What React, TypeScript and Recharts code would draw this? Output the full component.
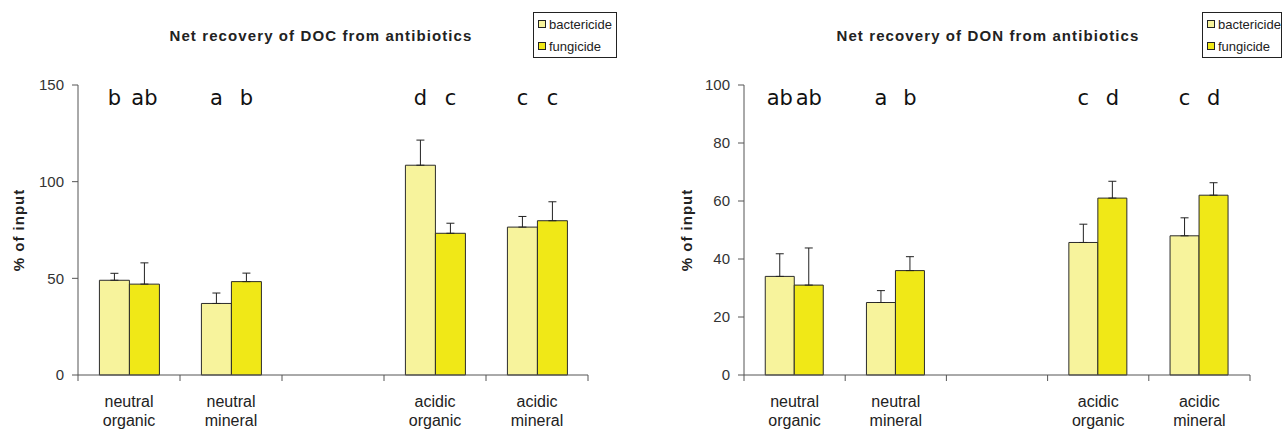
import { BarChart, Bar, XAxis, YAxis, ErrorBar, LabelList, Legend } from 'recharts';

const categories = ['neutral organic', 'neutral mineral', '', 'acidic organic', 'acidic mineral'];

// DOC panel
const docBactericide = [49, 37, null, 108.5, 76.5];
const docFungicide = [47, 48.3, null, 73.3, 79.8];
const docBactericideErr = [3.6, 5.4, null, 13, 5.5];
const docFungicideErr = [11, 4.4, null, 5.2, 9.8];
const docBactericideLetters = ['b', 'a', '', 'd', 'c'];
const docFungicideLetters = ['ab', 'b', '', 'c', 'c'];
const docTicks = [0, 50, 100, 150];

// DON panel
const donBactericide = [34, 25, null, 45.7, 48];
const donFungicide = [31, 36, null, 61, 62];
const donBactericideErr = [7.8, 4.1, null, 6.3, 6.2];
const donFungicideErr = [12.8, 4.8, null, 5.8, 4.3];
const donBactericideLetters = ['ab', 'a', '', 'c', 'c'];
const donFungicideLetters = ['ab', 'b', '', 'd', 'd'];
const donTicks = [0, 20, 40, 60, 80, 100];

const BACT = '#F7F39C';
const FUNG = '#F0E817';
const EDGE = '#2b2b2b';
const AXIS = '#555';
const SANS = '"Liberation Sans", Arial, sans-serif';

const PLOT_TOP = 85;
const HEIGHT = 429;

type Num = number | null;

function buildRows(b: Num[], f: Num[], be: Num[], fe: Num[], bl: string[], fl: string[]) {
  return categories.map((name, i) => ({
    name,
    bactericide: b[i],
    fungicide: f[i],
    bErr: be[i] == null ? undefined : [0, be[i]],
    fErr: fe[i] == null ? undefined : [0, fe[i]],
    bLetter: bl[i],
    fLetter: fl[i],
  }));
}

const docRows = buildRows(docBactericide, docFungicide, docBactericideErr, docFungicideErr, docBactericideLetters, docFungicideLetters);
const donRows = buildRows(donBactericide, donFungicide, donBactericideErr, donFungicideErr, donBactericideLetters, donFungicideLetters);

// two-line category label, plus Excel-style tick marks on the category boundaries
function CategoryTick(props: any) {
  const { x, y, payload, index, width } = props;
  const half = payload.offset || width / (2 * categories.length);
  const lines = String(payload.value).split(' ').filter(Boolean);
  const isLast = index === categories.length - 1;
  return (
    <g>
      <line x1={x - half} x2={x - half} y1={y} y2={y + 6} stroke={AXIS} />
      {isLast && <line x1={x + half} x2={x + half} y1={y} y2={y + 6} stroke={AXIS} />}
      <text x={x} y={y} textAnchor="middle" fill="#222" fontSize={16} fontFamily={SANS}>
        {lines.map((l, i) => (
          <tspan key={i} x={x} dy={i === 0 ? 32 : 19}>
            {l}
          </tspan>
        ))}
      </text>
    </g>
  );
}

const letterLabel = (props: any) => {
  const vb = props.viewBox ?? props;
  if (!props.value) return null;
  return (
    <text
      x={Number(vb.x) + Number(vb.width) / 2}
      y={PLOT_TOP + 20}
      textAnchor="middle"
      fill="#111"
      fontSize={21}
      fontFamily='"DejaVu Sans", sans-serif'
    >
      {props.value}
    </text>
  );
};

function LegendBox(props: any) {
  const payload = props.payload || [];
  return (
    <div
      style={{
        border: '1px solid #222',
        background: '#fff',
        padding: '0 4px',
        fontFamily: SANS,
        fontSize: 13,
        color: '#222',
      }}
    >
      {payload.map((e: any) => (
        <div key={e.value} style={{ display: 'flex', alignItems: 'center', height: 22, whiteSpace: 'nowrap' }}>
          <span
            style={{
              width: 6,
              height: 6,
              flexShrink: 0,
              background: e.color,
              border: '1px solid #222',
              marginRight: 3,
              display: 'inline-block',
            }}
          />
          {e.value}
        </div>
      ))}
    </div>
  );
}

interface PanelProps {
  title: string;
  rows: ReturnType<typeof buildRows>;
  ticks: number[];
  left: number;
  width: number;
  yAxisWidth: number;
  marginRight: number;
  yLabelX: number;
  titleX: number;
  legendLeft: number;
  legendWidth: number;
}

function Panel(p: PanelProps) {
  const plotBottom = 375;
  return (
    <div style={{ position: 'absolute', left: p.left, top: 0, width: p.width, height: HEIGHT }}>
      <div
        style={{
          position: 'absolute',
          left: p.titleX,
          top: 35,
          transform: 'translate(-50%, -50%)',
          whiteSpace: 'nowrap',
          fontFamily: SANS,
          fontWeight: 'bold',
          fontSize: 15,
          letterSpacing: 1.1,
          color: '#222',
        }}
      >
        {p.title}
      </div>
      <div
        style={{
          position: 'absolute',
          left: p.yLabelX,
          top: (PLOT_TOP + plotBottom) / 2,
          transform: 'translate(-50%, -50%) rotate(-90deg)',
          whiteSpace: 'nowrap',
          fontFamily: SANS,
          fontWeight: 'bold',
          fontSize: 15,
          letterSpacing: 1,
          color: '#222',
        }}
      >
        % of input
      </div>
      <BarChart
        width={p.width}
        height={HEIGHT}
        data={p.rows}
        margin={{ top: PLOT_TOP, right: p.marginRight, bottom: 0, left: 0 }}
        barCategoryGap="21%"
        barGap={0}
      >
        <XAxis
          dataKey="name"
          height={HEIGHT - PLOT_TOP - (plotBottom - PLOT_TOP)}
          stroke={AXIS}
          tickLine={false}
          tickSize={0}
          tickMargin={0}
          interval={0}
          tick={<CategoryTick />}
        />
        <YAxis
          domain={[0, p.ticks[p.ticks.length - 1]]}
          ticks={p.ticks}
          width={p.yAxisWidth}
          tickSize={6}
          tickMargin={8}
          stroke={AXIS}
          tick={{ fill: '#333', fontSize: 15, fontFamily: SANS }}
        />
        <Legend
          layout="vertical"
          align="center"
          verticalAlign="middle"
          content={<LegendBox />}
          wrapperStyle={{ left: p.legendLeft, top: 12, width: p.legendWidth }}
        />
        <Bar dataKey="bactericide" name="bactericide" fill={BACT} stroke={EDGE} strokeWidth={1} isAnimationActive={false}>
          <ErrorBar dataKey="bErr" width={4} stroke="#222" strokeWidth={1} direction="y" />
          <LabelList dataKey="bLetter" content={letterLabel} />
        </Bar>
        <Bar dataKey="fungicide" name="fungicide" fill={FUNG} stroke={EDGE} strokeWidth={1} isAnimationActive={false}>
          <ErrorBar dataKey="fErr" width={4} stroke="#222" strokeWidth={1} direction="y" />
          <LabelList dataKey="fLetter" content={letterLabel} />
        </Bar>
      </BarChart>
    </div>
  );
}

export default function App() {
  return (
    <div style={{ position: 'absolute', left: 0, top: 0, width: 1287, height: HEIGHT, background: '#fff' }}>
      <Panel
        title="Net recovery of DOC from antibiotics"
        rows={docRows}
        ticks={docTicks}
        left={0}
        width={640}
        yAxisWidth={78}
        marginRight={52}
        yLabelX={18}
        titleX={321}
        legendLeft={533}
        legendWidth={84}
      />
      <Panel
        title="Net recovery of DON from antibiotics"
        rows={donRows}
        ticks={donTicks}
        left={640}
        width={647}
        yAxisWidth={104}
        marginRight={37}
        yLabelX={46}
        titleX={348}
        legendLeft={562}
        legendWidth={80}
      />
    </div>
  );
}
